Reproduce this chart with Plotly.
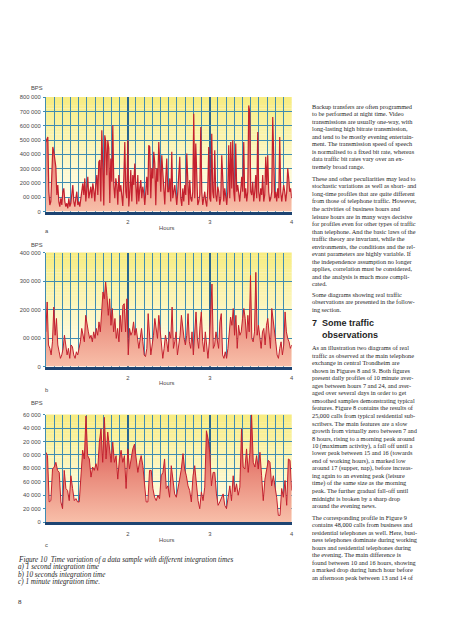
import numpy as np
import plotly.graph_objects as go

# The page body has an 8px default margin, so the figure is drawn 8px in;
# page pixel positions below are converted to figure coordinates.
OFF = 8
W, H = 444, 632


def fx(p):
    return (p - OFF) / W


def fy(p):
    return 1 - (p - OFF) / H


# ---------------- data ----------------
HOURS = [1, 4]
X_TICKS = [2, 3, 4]
X_TEXT = ["2", "3", "4"]

# a) 1 second integration time, kBPS
A_KBPS = [
    487, 510, 522, 139, 46, 70, 255, 452, 418, 371,
    313, 116, 186, 70, 35, 93, 46, 139, 162, 70,
    35, 58, 23, 93, 35, 58, 128, 186, 70, 35,
    93, 139, 46, 70, 35, 93, 139, 197, 116, 232,
    70, 186, 244, 93, 139, 174, 93, 197, 151, 70,
    186, 255, 116, 348, 360, 70, 568, 162, 42, 534,
    487, 255, 499, 441, 60, 371, 209, 603, 186, 93,
    232, 186, 48, 255, 139, 186, 93, 40, 232, 487,
    139, 93, 499, 35, 139, 290, 70, 255, 186, 336,
    186, 52, 255, 70, 162, 220, 93, 174, 128, 46,
    139, 244, 116, 464, 452, 93, 302, 232, 418, 336,
    45, 302, 209, 487, 325, 139, 394, 302, 186, 50,
    232, 371, 139,
    139, 232, 70, 418, 93, 139, 186, 116, 46, 139,
    255, 383, 93, 40, 162, 70, 186, 116, 406, 139,
    46, 220, 93, 70, 139, 684, 93, 476, 139, 46,
    70, 116, 592, 139, 46, 93, 139, 70, 35, 162,
    452, 93, 70, 545, 139, 93, 429, 116, 70, 174,
    139, 46, 93, 394, 139, 70, 162, 93, 46, 139,
    464, 93, 487, 162, 499, 139, 70, 476, 139, 186,
    116, 70, 151, 244, 139, 487, 93, 162, 70, 139,
    742, 696, 139, 116, 209, 70, 139, 255, 93, 557,
    139, 70, 162, 116, 255, 70, 116, 383, 186, 394,
    139, 70, 93, 139, 661, 255, 93, 139, 70, 162,
    93, 522, 139, 70, 116, 186, 139, 70, 139, 302,
    232, 139, 162, 93,
]

# b) 10 seconds integration time, kBPS
B_KBPS = [
    122, 227, 76, 64, 41, 87, 209, 110, 169, 76,
    52, 29, 41, 64, 110, 76, 41, 64, 29, 76,
    70, 41, 29, 52, 41, 64, 87, 134, 110, 87,
    180, 145, 122, 99, 110, 87, 122, 99, 134, 110,
    157, 122, 180, 262, 238, 297, 250, 180, 238, 145,
    204, 122, 169, 99, 134, 87, 180, 122, 215, 221,
    122, 238, 41, 134, 110, 122, 157, 110, 134, 93,
    64, 99, 134, 87, 41, 35, 64, 186, 122, 41,
    76, 110, 169, 134, 99, 180, 122, 64, 29, 64,
    110, 87, 52,
    122, 99, 209, 64, 87, 122, 41, 76, 110, 180,
    134, 99, 76, 110, 186, 87, 64, 122, 41, 110,
    192, 99, 64, 145, 192, 87, 52, 122, 64, 29,
    87, 180, 290, 64, 76, 122, 87, 64, 157, 186,
    41, 29, 52, 29, 64, 110, 174, 145, 204, 110,
    180, 64, 145, 110, 122, 169, 204, 169, 99, 180,
    122, 320, 99, 87, 122, 331, 110, 145, 99, 64,
    122, 134, 76, 145, 169, 122, 64, 204, 169, 122,
    87, 41, 29, 64, 87, 41, 76, 192, 122, 99,
    87, 64, 76,
]

# c) 1 minute integration time, kBPS
C_KBPS = [
    104, 99, 30, 32, 79, 82, 89, 77, 74, 30,
    20, 77, 50, 47, 32, 69, 50, 32, 35, 30,
    30, 69, 107, 94, 158, 99, 94, 67, 82, 77,
    87, 77, 119, 139, 89, 156, 94, 134, 109, 89,
    119, 89, 99, 64, 94, 107, 89, 99, 50, 109,
    79, 97, 109, 116, 94, 74, 89, 99, 84, 54,
    30, 30, 77, 77, 50, 37, 32, 40, 35, 69,
    74, 94, 50, 54, 37, 84, 64, 42, 37, 54,
    64, 79, 102, 79, 69, 54, 47, 30, 69, 84,
    59, 32, 20, 45, 32, 52, 136, 124, 104, 54,
    74, 74, 42, 25, 30, 37, 42, 25, 20, 37,
    54, 32, 69, 45, 57, 40, 52, 139, 82, 79,
    109, 74, 104, 160, 89, 82, 99, 79, 104, 69,
    32, 64, 79, 92, 89, 54, 69, 54, 37, 10,
    10, 50, 37, 62, 25, 94, 92, 47,
]

A_YTICKS = [0, 100000, 200000, 300000, 400000, 500000, 600000, 700000, 800000]
A_YTEXT = ["0", "00 000", "200 000", "300 000", "400 000", "500 000", "600 000", "700 000", "800 000"]
B_YTICKS = [0, 100000, 200000, 300000, 400000]
B_YTEXT = ["0", "00 000", "200 000", "300 000", "400 000"]
C_YTICKS = [0, 20000, 40000, 60000, 80000, 100000, 120000, 140000, 160000]
C_YTEXT = ["0", "20 000", "40 000", "60 000", "80 000", "00 000", "20 000", "40 000", "60 000"]

P1 = [
    "Backup transfers are often programmed",
    "to be performed at night time. Video",
    "transmissions are usually one-way, with",
    "long-lasting high bitrate transmission,",
    "and tend to be mostly evening entertain-",
    "ment. The transmission speed of speech",
    "is normalised to a fixed bit rate, whereas",
    "data traffic bit rates vary over an ex-",
    "tremely broad range.",
]
P2 = [
    "These and other peculiarities may lead to",
    "stochastic variations as well as short- and",
    "long-time profiles that are quite different",
    "from those of telephone traffic. However,",
    "the activities of business hours and",
    "leisure hours are in many ways decisive",
    "for profiles even for other types of traffic",
    "than telephone. And the basic laws of the",
    "traffic theory are invariant, while the",
    "environments, the conditions and the rel-",
    "evant parameters are highly variable. If",
    "the independence assumption no longer",
    "applies, correlation must be considered,",
    "and the analysis is much more compli-",
    "cated.",
]
P3 = [
    "Some diagrams showing real traffic",
    "observations are presented in the follow-",
    "ing section.",
]
P4 = [
    "As an illustration two diagrams of real",
    "traffic as observed at the main telephone",
    "exchange in central Trondheim are",
    "shown in Figures 8 and 9. Both figures",
    "present daily profiles of 10 minute aver-",
    "ages between hours 7 and 24, and aver-",
    "aged over several days in order to get",
    "smoothed samples demonstrating typical",
    "features. Figure 8 contains the results of",
    "25,000 calls from typical residential sub-",
    "scribers. The main features are a slow",
    "growth from virtually zero between 7 and",
    "8 hours, rising to a morning peak around",
    "10 (maximum activity), a fall off until a",
    "lower peak between 15 and 16 (towards",
    "end of working hours), a marked low",
    "around 17 (supper, nap), before increas-",
    "ing again to an evening peak (leisure",
    "time) of the same size as the morning",
    "peak. The further gradual fall-off until",
    "midnight is broken by a sharp drop",
    "around the evening news.",
]
P5 = [
    "The corresponding profile in Figure 9",
    "contains 48,000 calls from business and",
    "residential telephones as well. Here, busi-",
    "ness telephones dominate during working",
    "hours and residential telephones during",
    "the evening. The main difference is",
    "found between 10 and 16 hours, showing",
    "a marked drop during lunch hour before",
    "an afternoon peak between 13 and 14 of",
]
CAPTION = [
    "Figure 10  Time variation of a data sample with different integration times",
    "a) 1 second integration time",
    "b) 10 seconds integration time",
    "c) 1 minute integration time.",
]

# ---------------- styling ----------------
GRID = "#3f8cb2"
HOUR = "#2a6790"
NAVY = "#1d4472"
LINE = "#c4202e"
TICKFONT = dict(family="Liberation Sans", size=5.8, color="#4a4a4a")
BODY = dict(family="Liberation Serif", size=6.3, color="#1e1e1e")
LH = 7.6
BG_TOP = (247, 236, 128)
BG_BOT = (255, 253, 236)


def mix(c1, c2, t):
    return "rgb(%d,%d,%d)" % tuple(round(a + (b - a) * t) for a, b in zip(c1, c2))


panels = [
    dict(vals=A_KBPS, ymax=800000, yt=A_YTICKS, ytt=A_YTEXT, top=95, bot=210.5, stand=2, lw=1.2),
    dict(vals=B_KBPS, ymax=400000, yt=B_YTICKS, ytt=B_YTEXT, top=252, bot=367, stand=3, lw=1.0),
    dict(vals=C_KBPS, ymax=160000, yt=C_YTICKS, ytt=C_YTEXT, top=415.5, bot=524, stand=4, lw=1.0),
]

fig = go.Figure()
layout = dict(
    width=W, height=H, margin=dict(l=0, r=0, t=0, b=0),
    paper_bgcolor="white", plot_bgcolor="rgba(0,0,0,0)", showlegend=False,
)
shapes = []
NB = 40
for i, p in enumerate(panels, start=1):
    xa = "x" if i == 1 else f"x{i}"
    ya = "y" if i == 1 else f"y{i}"
    vals = np.array(p["vals"], dtype=float) * 1000
    xs = np.linspace(HOURS[0], HOURS[1], len(vals))
    fig.add_trace(go.Scatter(
        x=xs, y=vals, mode="lines", xaxis=xa, yaxis=ya,
        line=dict(color=LINE, width=p["lw"]),
        fill="tozeroy",
        fillgradient=dict(type="vertical", start=0, stop=p["ymax"],
                          colorscale=[[0, "#f8c0aa"], [0.45, "#e9897a"], [1, "#cf3540"]]),
        hoverinfo="skip",
    ))
    for k in range(NB):
        t0, t1 = k / NB, (k + 1) / NB
        t = ((t0 + t1) / 2) ** 1.3
        shapes.append(dict(type="rect", xref=f"{xa} domain", yref=f"{ya} domain",
                           x0=0, x1=1, y0=t0, y1=t1 + 0.002, fillcolor=mix(BG_BOT, BG_TOP, t),
                           line=dict(width=0), layer="below"))
    layout["xaxis" + ("" if i == 1 else str(i))] = dict(
        domain=[fx(46), fx(293)], range=HOURS, anchor=ya,
        tickvals=X_TICKS, ticktext=X_TEXT, tickfont=TICKFONT, ticks="",
        ticklabelstandoff=p["stand"],
        showgrid=True, gridcolor=HOUR, gridwidth=1.6,
        minor=dict(dtick=0.1, tick0=1, showgrid=True, gridcolor=GRID, gridwidth=1),
        showline=True, linecolor=NAVY, linewidth=3, zeroline=False, fixedrange=True,
    )
    layout["yaxis" + ("" if i == 1 else str(i))] = dict(
        domain=[fy(p["bot"]), fy(p["top"])], range=[0, p["ymax"]], anchor=xa,
        tickvals=p["yt"], ticktext=p["ytt"], tickfont=TICKFONT,
        ticks="outside", ticklen=2, tickcolor=GRID, ticklabelstandoff=1,
        showgrid=True, gridcolor=GRID, gridwidth=1,
        showline=True, linecolor=GRID, linewidth=1, zeroline=False, fixedrange=True,
    )

ann = []


def text(x, y, s, font, xanchor="left", yanchor="middle"):
    ann.append(dict(x=fx(x), y=fy(y), xref="paper", yref="paper", text=s, showarrow=False,
                    xanchor=xanchor, yanchor=yanchor, align="left", font=font, borderpad=0))


SMALL = dict(family="Liberation Sans", size=5.8, color="#4a4a4a")
for (bps_y, hours_y, lab, lab_y) in [(86, 227, "a", 230), (244, 383.5, "b", 391), (404, 542, "c", 547)]:
    text(37, bps_y, "BPS", SMALL, xanchor="center")
    text(168, hours_y, "Hours", SMALL, xanchor="center")
    text(47, lab_y, lab, SMALL, xanchor="center")

for lines, first in [(P1, 104), (P2, 177), (P3, 294), (P4, 348), (P5, 519)]:
    for j, line in enumerate(lines):
        text(312, first + j * LH, line, BODY)

HEAD = dict(family="Liberation Sans", size=9, color="#1e1e1e")
text(312, 323, "<b>7</b>", HEAD)
text(322, 323, "<b>Some traffic</b>", HEAD)
text(322, 335, "<b>observations</b>", HEAD)

CAPF = dict(family="Liberation Serif", size=7.2, color="#1e1e1e")
for j, line in enumerate(CAPTION):
    text(17, 562.3 + j * 7.35, "<i>" + line + "</i>", CAPF)

text(17, 605, "8", dict(family="Liberation Serif", size=7, color="#1e1e1e"))

layout["shapes"] = shapes
layout["annotations"] = ann
fig.update_layout(**layout)
fig.write_html("out.html")
